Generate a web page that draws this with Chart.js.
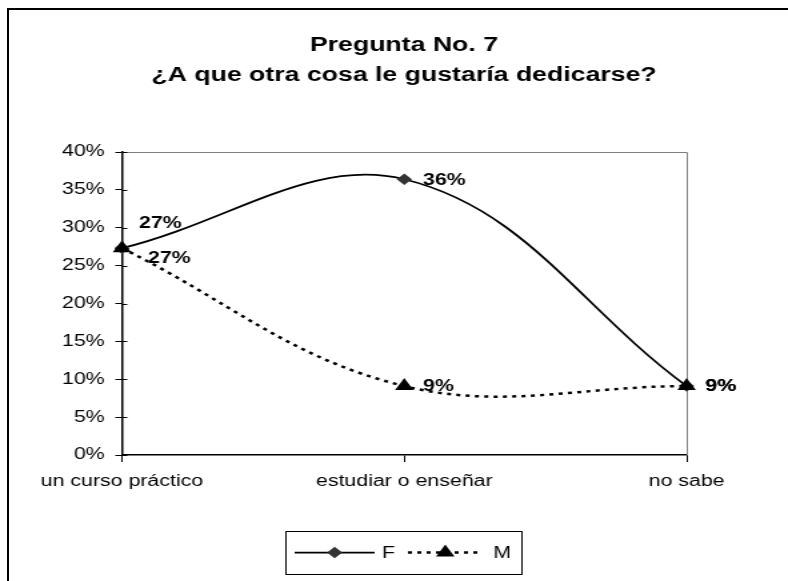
<!DOCTYPE html>
<html lang="es">
<head>
<meta charset="utf-8">
<title>Pregunta No. 7</title>
<script src="https://cdn.jsdelivr.net/npm/chart.js@4.4.1/dist/chart.umd.min.js"></script>
<style>
  html, body { margin: 0; padding: 0; background: #fff; overflow: hidden; }
  body { width: 788px; height: 581px; position: relative; }
  /* marco exterior del gráfico (sólo se ven el borde izq. y el superior) */
  .marco { position: absolute; left: 7px; top: 8px; width: 900px; height: 700px;
           border-left: 2px solid #000; border-top: 2px solid #000; }
  /* el original está estirado a lo ancho: 591 -> 788 */
  .lienzo { position: absolute; left: 0; top: 0; width: 591px; height: 581px;
            transform: scaleX(1.33333); transform-origin: 0 0; }
</style>
</head>
<body>
<div class="marco"></div>
<div class="lienzo"><canvas id="grafico"></canvas></div>
<script>
(function () {

  /* ── Datos ── */
  const titulo = ['Pregunta No. 7', '¿A que otra cosa le gustaría dedicarse?'];
  const categorias = ['un curso práctico', 'estudiar o enseñar', 'no sabe'];
  const nombresSeries = ['F', 'M'];
  const serieF = [27.3, 36.4, 9.1];
  const serieM = [27.3, 9.1, 9.1];
  const ticksY = [0, 5, 10, 15, 20, 25, 30, 35, 40];

  const FUENTE = '"Liberation Sans", Arial, sans-serif';

  /* ── borde gris del área de trazado + marcas de tick hacia dentro ── */
  const areaPlugin = {
    id: 'areaPlot',
    beforeDatasetsDraw: function (chart) {
      const a = chart.chartArea, ctx = chart.ctx, y = chart.scales.y;
      ctx.save();
      ctx.strokeStyle = '#808080';
      ctx.lineWidth = 1;
      ctx.beginPath();
      ctx.moveTo(a.left, a.top + 0.5);
      ctx.lineTo(a.right + 0.5, a.top + 0.5);
      ctx.lineTo(a.right + 0.5, a.bottom);
      ctx.stroke();
      ctx.strokeStyle = '#000';
      ctx.beginPath();
      ticksY.forEach(function (v) {
        const py = Math.round(y.getPixelForValue(v)) + 0.5;
        ctx.moveTo(a.left, py);
        ctx.lineTo(a.left + 4, py);
      });
      ctx.stroke();
      ctx.restore();
    }
  };

  /* ── etiquetas de datos ── */
  const etiquetasPlugin = {
    id: 'etiquetas',
    afterDatasetsDraw: function (chart, args, opts) {
      const ctx = chart.ctx;
      ctx.save();
      ctx.font = 'bold 16px ' + FUENTE;
      ctx.fillStyle = '#000';
      ctx.textAlign = 'left';
      ctx.textBaseline = 'middle';
      chart.data.datasets.forEach(function (ds, di) {
        const meta = chart.getDatasetMeta(di);
        meta.data.forEach(function (pt, i) {
          const ajuste = (opts.ajustes[di] && opts.ajustes[di][i]) || [opts.dx, 0];
          ctx.fillText(Math.round(ds.data[i]) + '%', pt.x + ajuste[0], pt.y + ajuste[1] + 1);
        });
      });
      ctx.restore();
    }
  };

  /* ── título y leyenda (estilo Excel) ── */
  const decoPlugin = {
    id: 'deco',
    afterDraw: function (chart, args, opts) {
      const ctx = chart.ctx;
      ctx.save();
      ctx.fillStyle = '#000';
      ctx.font = 'bold 20px ' + FUENTE;
      ctx.textAlign = 'center';
      ctx.textBaseline = 'alphabetic';
      titulo.forEach(function (t, i) { ctx.fillText(t, opts.tituloX, opts.tituloY[i]); });

      const L = opts.leyenda;
      ctx.strokeStyle = '#000';
      ctx.lineWidth = 1;
      ctx.strokeRect(L.x + 0.5, L.y + 0.5, L.w, L.h);
      const cy = L.y + L.h / 2;
      ctx.font = '16px ' + FUENTE;
      ctx.textAlign = 'left';
      ctx.textBaseline = 'middle';
      chart.data.datasets.forEach(function (ds, di) {
        const it = L.items[di];
        ctx.save();
        ctx.strokeStyle = ds.borderColor;
        ctx.lineWidth = ds.borderWidth;
        ctx.setLineDash(ds.borderDash || []);
        ctx.beginPath();
        ctx.moveTo(it.x0, cy);
        ctx.lineTo(it.x1, cy);
        ctx.stroke();
        ctx.setLineDash([]);
        ctx.fillStyle = ds.pointBackgroundColor;
        ctx.strokeStyle = ds.pointBorderColor;
        Chart.helpers.drawPoint(ctx, { pointStyle: ds.pointStyle, radius: ds.pointRadius, rotation: 0, borderWidth: 1 },
          (it.x0 + it.x1) / 2, cy);
        ctx.restore();
        ctx.fillText(ds.label, it.xt, cy + 1);
      });
      ctx.restore();
    }
  };

  new Chart(document.getElementById('grafico').getContext('2d'), {
    type: 'line',
    data: {
      labels: categorias,
      datasets: [
        { label: nombresSeries[0], data: serieF, order: 1, clip: false,
          borderColor: '#000', borderWidth: 1.75, tension: 0.38, fill: false,
          pointStyle: 'rectRot', pointRadius: 4.5, pointBackgroundColor: '#333', pointBorderColor: '#333' },
        { label: nombresSeries[1], data: serieM, order: 0, clip: false,
          borderColor: '#000', borderWidth: 2.5, borderDash: [3, 4], tension: 0.38, fill: false,
          pointStyle: 'triangle', pointRadius: 5.5, pointBackgroundColor: '#000', pointBorderColor: '#000' }
      ]
    },
    options: {
      responsive: true,
      maintainAspectRatio: false,
      animation: false,
      events: [],
      layout: { padding: { top: 152, right: 76, bottom: 0, left: 0 } },
      scales: {
        x: {
          type: 'category',
          offset: false,
          afterFit: function (s) { s.height = 126; },
          grid: { display: true, drawOnChartArea: false, drawTicks: true, tickLength: 7, color: '#000', lineWidth: 1 },
          border: { display: true, color: '#000', width: 1.5 },
          ticks: { color: '#000', padding: 10, maxRotation: 0, autoSkip: false, font: { family: FUENTE, size: 16 } }
        },
        y: {
          min: 0, max: 40,
          afterFit: function (s) { s.width = 91.5; },
          afterBuildTicks: function (s) { s.ticks = ticksY.map(function (v) { return { value: v }; }); },
          grid: { display: true, drawOnChartArea: false, drawTicks: true, tickLength: 5, color: '#000', lineWidth: 1 },
          border: { display: true, color: '#000', width: 1.5 },
          ticks: { color: '#000', padding: 8, font: { family: FUENTE, size: 16 },
            callback: function (v) { return v + '%'; } }
        }
      },
      plugins: {
        legend: { display: false },
        title: { display: false },
        tooltip: { enabled: false },
        etiquetas: { dx: 14, ajustes: { 0: { 0: [12.75, -26] }, 1: { 0: [19.5, 9] } } },
        deco: {
          tituloX: 303, tituloY: [51, 81],
          leyenda: { x: 214, y: 531, w: 177, h: 43,
            items: [ { x0: 221, x1: 281, xt: 286.5 }, { x0: 306, x1: 362, xt: 370 } ] }
        }
      }
    },
    plugins: [areaPlugin, etiquetasPlugin, decoPlugin]
  });

})();
</script>
</body>
</html>
